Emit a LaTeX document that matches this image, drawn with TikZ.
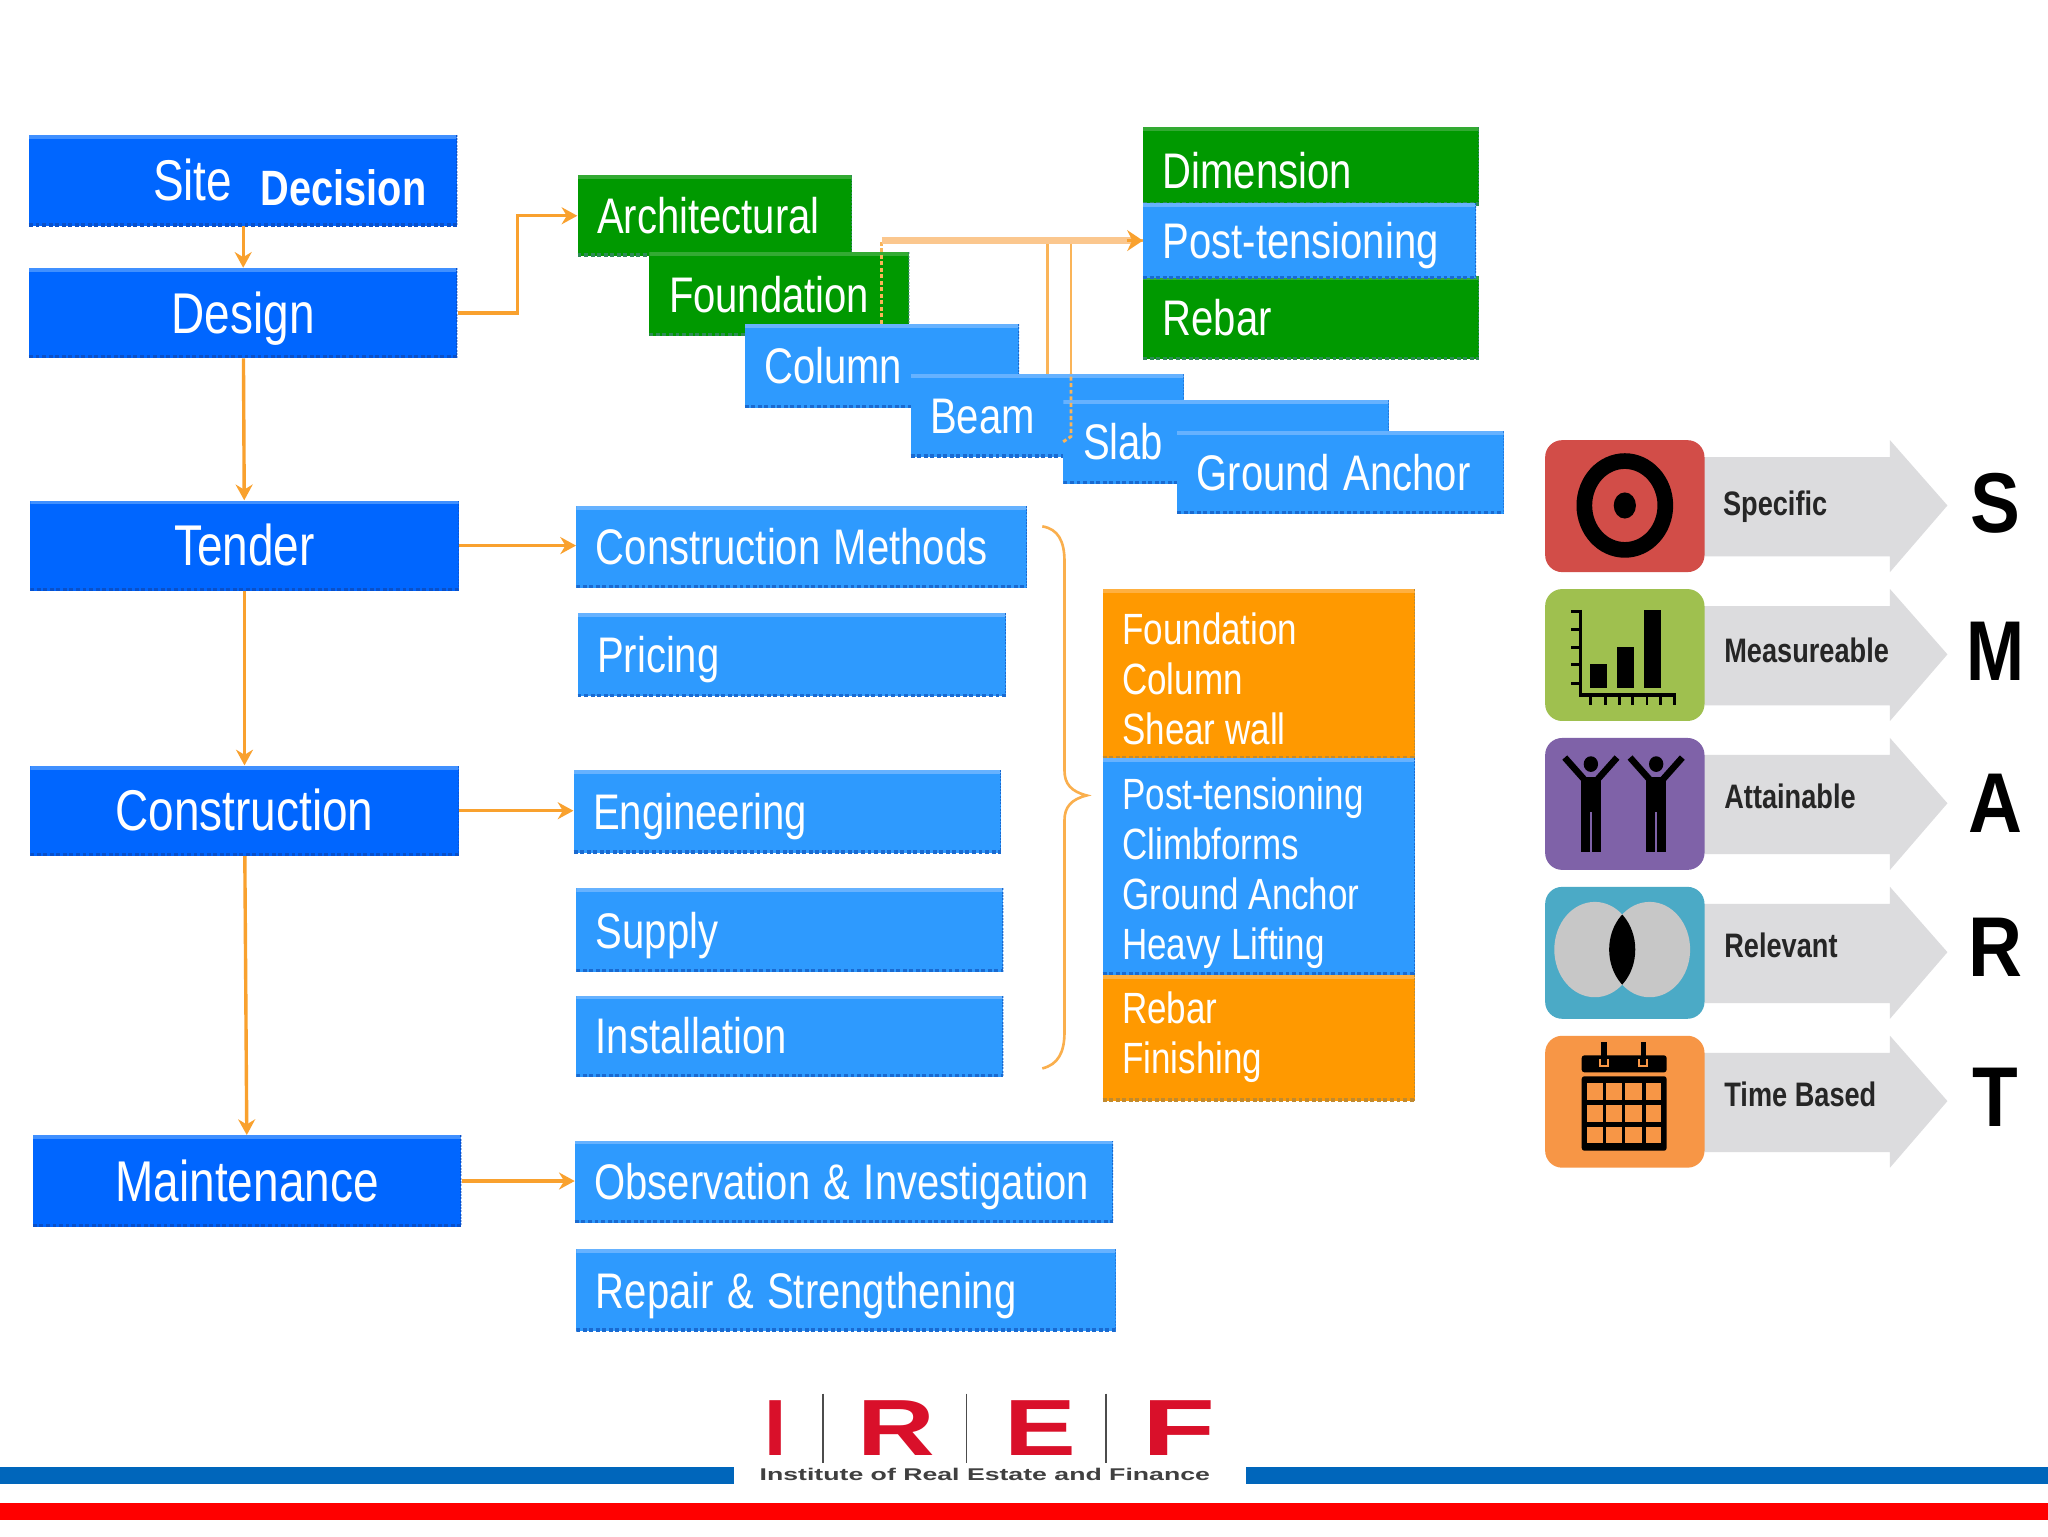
\documentclass[tikz,border=0pt]{standalone}
\usepackage{fontspec}
\setmainfont[FakeStretch=0.8]{Liberation Sans}
\newfontfamily\plainsans{Liberation Sans}
\newcommand{\boxgap}{\hspace{10.3pt}}
\usetikzlibrary{arrows.meta}
\definecolor{mainblue}{HTML}{0066FF}
\definecolor{mainlight}{HTML}{4090FF}
\definecolor{maindark}{HTML}{0A50C8}
\definecolor{subblue}{HTML}{2E9AFE}
\definecolor{sublight}{HTML}{66B2FF}
\definecolor{subdark}{HTML}{1A6AD0}
\definecolor{green1}{HTML}{009900}
\definecolor{greenlight}{HTML}{33AA33}
\definecolor{greendark}{HTML}{2E8B57}
\definecolor{orange1}{HTML}{FF9900}
\definecolor{orangelight}{HTML}{FFB040}
\definecolor{orangedark}{HTML}{C08A30}
\definecolor{conn}{HTML}{F9A12E}
\definecolor{connlight}{HTML}{FBC78E}
\definecolor{arrowgrey}{HTML}{DCDCDE}
\definecolor{iconred}{HTML}{D24D48}
\definecolor{icongreen}{HTML}{9FC04F}
\definecolor{iconpurple}{HTML}{7F62A8}
\definecolor{iconteal}{HTML}{4BAAC6}
\definecolor{iconorange}{HTML}{F79646}
\definecolor{logored}{HTML}{D9102A}
\definecolor{barblue}{HTML}{0066BB}
\tikzset{
  rect/.style n args={4}{anchor=north west, at={(#1,#2)},
    minimum width={(#3-#1)*1pt}, minimum height={(#4-#2)*1pt}},
  tone/.style n args={3}{fill=#1, path picture={
    \fill[#2] (path picture bounding box.north west) rectangle ([yshift=-3pt]path picture bounding box.north east);
    \draw[#3, line width=2.5pt, densely dashed] ([yshift=1pt]path picture bounding box.south west) -- ([yshift=1pt]path picture bounding box.south east);
    \draw[#3, line width=1.5pt, densely dotted] (path picture bounding box.north east) -- (path picture bounding box.south east);
  }},
  stage/.style={tone={mainblue}{mainlight}{maindark}, text=white, inner sep=0pt, align=center,
    font=\fontsize{44}{50}\selectfont, text height=31pt, text depth=0pt},
  subtext/.style={text=white, inner ysep=0pt, inner xsep=15pt, align=left,
    font=\fontsize{38.3}{46}\selectfont, text height=27.5pt, text depth=0pt},
  subblue box/.style={tone={subblue}{sublight}{subdark}, subtext},
  subgreen box/.style={tone={green1}{greenlight}{greendark}, subtext},
  panel blue/.style={tone={subblue}{sublight}{subdark}},
  panel orange/.style={tone={orange1}{orangelight}{orangedark}},
  listtext/.style={text=white, anchor=west, inner sep=0pt, align=left,
    font=\fontsize{33.5}{38.4}\selectfont},
  flow/.style={draw=conn, line width=2.6pt, -{Stealth[length=12pt,width=13pt]}},
  thinflow/.style={draw=conn!80!white, line width=2.2pt},
  icon/.style={rounded corners=13pt},
  shaft/.style={fill=arrowgrey},
  smartlabel/.style={anchor=west, inner sep=0pt, text=black!85,
    font=\fontsize{26}{30}\selectfont\bfseries, text height=18pt, text depth=0pt},
  smartletter/.style={inner sep=0pt, text=black, font=\fontsize{65}{70}\selectfont\bfseries\plainsans},
  logoletter/.style={inner sep=0pt, text=logored, font=\fontsize{61}{65}\selectfont\bfseries\plainsans},
  logorule/.style={draw=black!70, line width=1.4pt}
}
\begin{document}
\begin{tikzpicture}[x=1pt,y=-1pt]
\useasboundingbox (0,0) rectangle (1568,1176);
\fill[white] (0,0) rectangle (1568,1176);

% stages
\node[stage, rect={22}{103}{350}{173}] (site) {};
\node[text=white, inner sep=0pt, font=\fontsize{44}{50}\selectfont] (sitetext) at (147.5,138) {Site};
\node[text=white, inner sep=0pt, font=\fontsize{38}{46}\selectfont\bfseries] (decision) at (263,144) {Decision};
\node[stage, rect={22}{205}{350}{274}] (design) {Design};
\node[stage, rect={23}{383}{351}{452}] (tender) {Tender};
\node[stage, rect={23}{586}{351}{655}] (construction) {Construction};
\node[stage, rect={25}{869}{353}{939}] (maintenance) {Maintenance};

% design cascade
\node[subgreen box, rect={442}{134}{652}{196}, text width=180pt] (arch) {Architectural};
\node[subgreen box, rect={497}{193}{696}{257}, text width=169pt] (found) {Foundation};
\node[subblue box, rect={570}{248}{780}{312}, text width=180pt] (column) {Column};
\node[subblue box, rect={697}{286}{906}{350}, text width=179pt] (beam) {Beam};
\node[subblue box, rect={814}{306}{1063}{370}, text width=219pt] (slab) {Slab};
\node[subblue box, rect={901}{330}{1151}{393}, text width=220pt] (anchorbox) {Ground\boxgap Anchor};

% top right stack
\node[subgreen box, rect={875}{97}{1132}{157}, text width=227pt] (dim) {\raisebox{-3pt}{Dimension}};
\node[subgreen box, rect={875}{211}{1132}{275}, text width=227pt] (rebar) {Rebar};
\node[subblue box, rect={875}{155}{1130}{213}, text width=225pt] (post) {Post-tensioning};

% tender etc
\node[subblue box, rect={441}{387}{786}{450}, text width=315pt] (methods) {Construction\boxgap Methods};
\node[subblue box, rect={442}{469}{770}{533}, text width=298pt] (pricing) {Pricing};
\node[subblue box, rect={439}{589}{766}{653}, text width=297pt] (engineering) {Engineering};
\node[subblue box, rect={441}{680}{768}{744}, text width=297pt] (supply) {Supply};
\node[subblue box, rect={441}{762}{768}{824}, text width=297pt] (install) {Installation};
\node[subblue box, rect={440}{873}{852}{936}, text width=382pt] (observe) {\mbox{Observation\boxgap \&\boxgap Investigation}};
\node[subblue box, rect={441}{956}{854}{1019}, text width=383pt] (repair) {\mbox{Repair\boxgap \&\boxgap Strengthening}};

% list panels
\node[panel orange, rect={844}{451}{1083}{581}] (listone) {};
\node[panel blue, rect={844}{580}{1083}{746}] (listtwo) {};
\node[panel orange, rect={844}{746}{1083}{843}] (listthree) {};
\node[listtext] (listonet) at (859,520) {Foundation\\Column\\Shear wall};
\node[listtext] (listtwot) at (859,668.5) {Post-tensioning\\Climbforms\\Ground Anchor\\Heavy Lifting};
\node[listtext] (listthreet) at (859,794) {Rebar\\Finishing};

% connectors
\draw[flow] (site) -- (design);
\draw[flow] (design) -- (tender);
\draw[flow] (tender) -- (construction);
\draw[flow] (construction) -- (maintenance);
\draw[flow] (design.east) -- ++(46,0) |- (arch.west);
\draw[flow] (tender.east) -- (tender.east -| methods.west);
\draw[flow] (construction.east) -- (construction.east -| engineering.west);
\draw[flow] (maintenance.east) -- (maintenance.east -| observe.west);
\draw[thinflow, densely dashed] (column.north) -- (column.north |- post.west);
\draw[thinflow] (beam.north) |- (post.west);
\coordinate (slabbend) at ([xshift=6pt,yshift=4pt]slab.west);
\draw[thinflow, densely dashed] (slab.west) -- (slabbend) -- (slabbend |- beam.north);
\draw[thinflow] (slabbend |- beam.north) |- (post.west);
\draw[draw=connlight, line width=5pt] (column.north |- post.west) -- ([xshift=-8pt]post.west);
\draw[draw=conn, line width=2pt, -{Stealth[length=12pt,width=16pt]}] ([xshift=-12pt]post.west) -- (post.west);

% brace
\draw[draw=conn!85!white, line width=2pt] (798,403) .. controls (810,405) and (815,414) .. (815,430)
  -- (815,590) .. controls (815,600) and (820,606) .. (832,609)
  .. controls (820,612) and (815,618) .. (815,628) -- (815,790)
  .. controls (815,806) and (810,815) .. (798,818);

% SMART arrows
\foreach \t in {337,451,565,679,793}{
  \fill[shaft] (1300,\t+13) -- (1447,\t+13) -- (1447,\t) -- (1491,\t+50) -- (1447,\t+101) -- (1447,\t+89) -- (1300,\t+89) -- cycle;
}
% icons
\fill[iconred, icon] (1183,337) rectangle (1305,438);
\fill[icongreen, icon] (1183,451) rectangle (1305,552);
\fill[iconpurple, icon] (1183,565) rectangle (1305,666);
\fill[iconteal, icon] (1183,679) rectangle (1305,780);
\fill[iconorange, icon] (1183,793) rectangle (1305,894);

% target
\draw[black, line width=12pt] (1244,387) ellipse [x radius=31pt, y radius=34pt];
\fill[black] (1244,387) ellipse [x radius=8.5pt, y radius=10pt];

% chart
\draw[black, line width=2.6pt] (1210,467) -- (1210,532) -- (1283,532);
\foreach \y in {468,482,496,509,523} \draw[black, line width=2.2pt] (1203,\y) -- (1210,\y);
\foreach \x in {1218,1229,1240,1250,1261,1271,1282} \draw[black, line width=2.2pt] (\x,532) -- (\x,540);
\fill[black] (1217,508) rectangle (1230,527);
\fill[black] (1238,495) rectangle (1251,527);
\fill[black] (1259,467) rectangle (1272,527);

% people
\foreach \x in {1218,1268}{
  \fill[black] (\x,585) ellipse [x radius=5.5pt, y radius=6pt];
  \draw[black, line width=5pt, line join=round] (\x-20,580) -- (\x-4,598);
  \draw[black, line width=5pt, line join=round] (\x+20,580) -- (\x+4,598);
  \fill[black] (\x-7.5,595) rectangle (\x+7.5,652);
  \draw[iconpurple, line width=1.6pt] (\x,622) -- (\x,652);
}

% venn
\fill[black!22] (1221,727) ellipse [x radius=31pt, y radius=36.5pt];
\fill[black!22] (1263,727) ellipse [x radius=31pt, y radius=36.5pt];
\begin{scope}
  \clip (1221,727) ellipse [x radius=31pt, y radius=36.5pt];
  \fill[black] (1263,727) ellipse [x radius=31pt, y radius=36.5pt];
\end{scope}

% calendar
\fill[black, rounded corners=2pt] (1211,808) rectangle (1276,821);
\fill[black, rounded corners=2pt] (1211,824) rectangle (1276,881);
\foreach \x in {1228,1258} {
  \draw[black, line width=4pt] (\x,798) -- (\x,812);
  \draw[iconorange, line width=1.2pt] (\x-3,811) -- (\x-3,816) -- (\x+3,816) -- (\x+3,811);
}
\foreach \xa/\xb in {1215/1227,1229.5/1241.5,1244.5/1257,1260/1272}
  \foreach \ya/\yb in {829.5/842,846/859,863/875}
    \fill[iconorange] (\xa,\ya) rectangle (\xb,\yb);

% SMART text
\node[smartlabel] (lspec) at (1319,386) {Specific};
\node[smartlabel] (lmeas) at (1320,498) {Measureable};
\node[smartlabel] (latt) at (1320,610) {Attainable};
\node[smartlabel] (lrel) at (1320,724) {Relevant};
\node[smartlabel] (ltime) at (1320,838) {Time Based};
\node[smartletter] (ls) at (1528,385) {\scalebox{.88}[1]{S}};
\node[smartletter] (lm) at (1528,499) {\scalebox{.82}[1]{M}};
\node[smartletter] (la) at (1528,615) {\scalebox{.88}[1]{A}};
\node[smartletter] (lr) at (1528,725) {\scalebox{.88}[1]{R}};
\node[smartletter] (lt) at (1528,840) {\scalebox{.88}[1]{T}};

% footer
\fill[barblue] (0,1123) rectangle (562,1136);
\fill[barblue] (954,1123) rectangle (1568,1136);
\fill[red] (0,1151) rectangle (1568,1164);
\node[logoletter] (logoi) at (593.5,1093) {I};
\node[logoletter] (logor) at (686,1093) {\scalebox{1.35}[1]{R}};
\node[logoletter] (logoe) at (796.5,1093) {\scalebox{1.35}[1]{E}};
\node[logoletter] (logof) at (902.5,1093) {\scalebox{1.5}[1]{F}};
\draw[logorule] (630,1067) -- (630,1120);
\draw[logorule] (740,1067) -- (740,1120);
\draw[logorule] (847,1067) -- (847,1120);
\node[inner sep=0pt, text=black!75, font=\fontsize{13}{15}\selectfont\plainsans\bfseries] (logotext) at (754,1129) {\scalebox{1.57}[1]{Institute of Real Estate and Finance}};
\end{tikzpicture}
\end{document}
